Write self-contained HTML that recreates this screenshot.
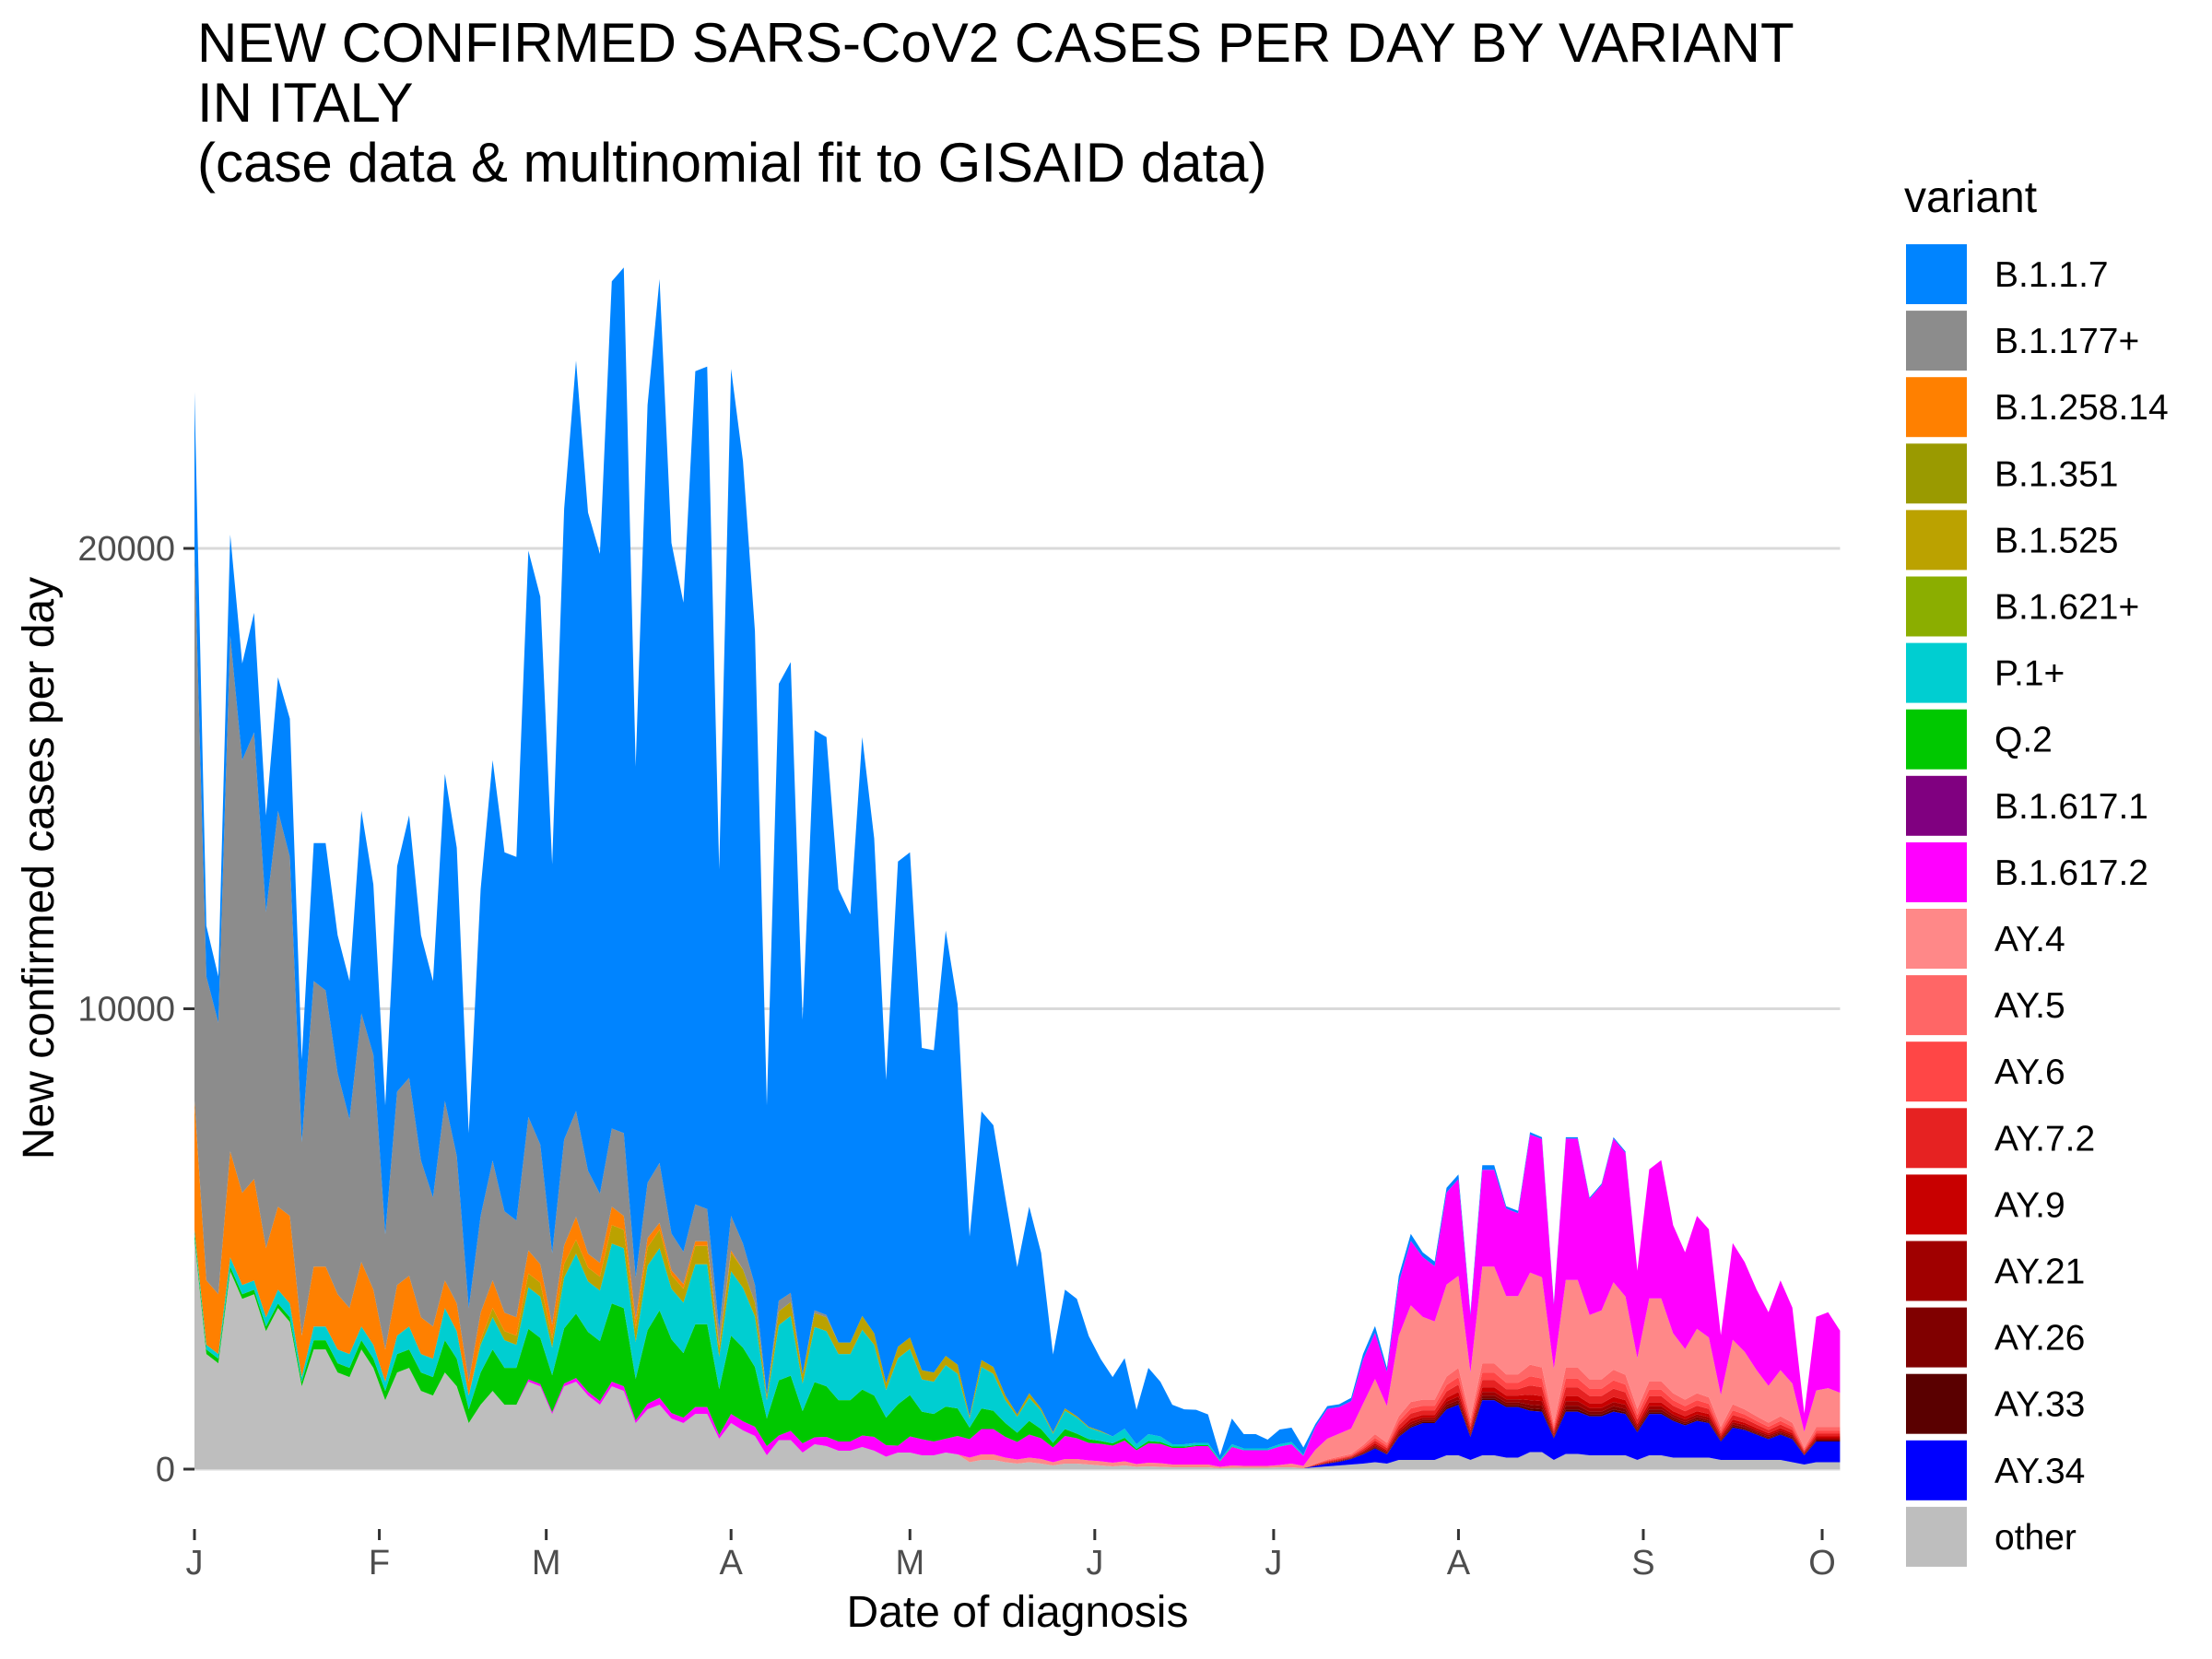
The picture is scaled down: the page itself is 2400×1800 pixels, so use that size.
<!DOCTYPE html>
<html>
<head>
<meta charset="utf-8">
<style>
  html,body{margin:0;padding:0;background:#fff;}
  svg{display:block;font-family:"Liberation Sans",Arial,sans-serif;}
</style>
</head>
<body>
<svg id="chart" xmlns="http://www.w3.org/2000/svg" width="2400" height="1800" viewBox="0 0 2400 1800">
  <rect x="0" y="0" width="2400" height="1800" fill="#ffffff"/>
  <g font-size="60" fill="#000">
    <text x="214" y="67">NEW CONFIRMED SARS-CoV2 CASES PER DAY BY VARIANT</text>
    <text x="214" y="132">IN ITALY</text>
    <text x="214" y="197">(case data &amp; multinomial fit to GISAID data)</text>
  </g>
  <g id="grid"></g>
  <g id="areas"></g>
  <g id="yaxis"></g>
  <g id="xaxis"></g>
  <text x="1104" y="1765" font-size="48" text-anchor="middle" fill="#000">Date of diagnosis</text>
  <text transform="translate(58,942) rotate(-90)" font-size="48" text-anchor="middle" fill="#000">New confirmed cases per day</text>
  <g id="legend">
    <text x="2066" y="230" font-size="48" fill="#000">variant</text>
  </g>
</svg>
<script>
// ---- data (values in thousands of cases/day), sampled every 2 days from 1 Jan 2021 ----
const Z = n => new Array(n).fill(0);
const days = Array.from({length: 139}, (_, i) => i * 2);
const monthLabels = ["J","F","M","A","M","J","J","A","S","O"];
const monthDays = [0,31,59,90,120,151,181,212,243,273];
const yTicks = [0, 10000, 20000];

const other = [5.0,2.5,2.3,4.3,3.7,3.8,3.0,3.5,3.2,1.8,2.6,2.6,2.1,2.0,2.6,2.2,1.5,2.1,2.2,1.7,1.6,2.1,1.8,1.0,1.4,1.7,1.4,1.4,1.9,1.8,1.2,1.8,1.9,1.6,1.4,1.8,1.7,1.0,1.3,1.4,1.1,1.0,1.2,1.2,.66,1.0,.84,.72,.3,.63,.63,.36,.54,.5,.4,.4,.48,.4,.27,.36,.36,.3,.3,.36,.32,
 .15,.2,.2,.15,.12,.15,.12,.08,.12,.12,.1,.08,.06,.08,.05,.06,.05,.04,.04,.04,.04,.02,.03,.03,.03,.03,.04,.04,.02,
 .04,.06,.08,.1,.12,.15,.12,.2,.2,.2,.2,.3,.3,.2,.3,.3,.25,.25,.37,.37,.2,.33,.33,.3,.3,.3,.3,.2,.3,.3,.25,.25,.25,.25,.2,.2,.2,.2,.2,.2,.15,.1,.15,.15,.15];
const ay34 = Z(94).concat([.03,.06,.08,.12,.2,.3,.2,.5,.7,.8,.8,1.0,1.1,.5,1.2,1.2,1.1,1.1,.9,.88,.47,.92,.92,.85,.85,.95,.9,.6,.9,.9,.8,.7,.8,.75,.4,.7,.65,.55,.45,.55,.5,.2,.45,.45,.45]);
const ay33 = Z(94).concat([0,0,.01,.01,.01,.02,.01,.02,.03,.03,.03,.04,.04,.02,.04,.04,.04,.04,.05,.05,.02,.05,.05,.04,.04,.05,.04,.03,.04,.04,.03,.03,.03,.03,.02,.03,.02,.02,.02,.02,.02,.01,.02,.02,.02]);
const ay26 = Z(94).concat([0,.01,.01,.01,.02,.02,.02,.04,.04,.04,.04,.06,.06,.03,.06,.06,.06,.06,.08,.08,.02,.08,.08,.06,.06,.07,.07,.04,.06,.06,.05,.04,.05,.04,.02,.04,.04,.03,.03,.03,.03,.01,.02,.02,.02]);
const ay21 = Z(94).concat([.01,.01,.01,.01,.02,.03,.03,.05,.06,.05,.05,.07,.08,.04,.08,.08,.07,.07,.1,.1,.03,.1,.1,.08,.08,.09,.09,.05,.07,.07,.06,.06,.06,.06,.03,.05,.05,.04,.04,.04,.04,.02,.03,.03,.03]);
const ay9 = Z(94).concat([.01,.01,.01,.01,.02,.04,.03,.05,.07,.06,.06,.08,.1,.05,.1,.1,.08,.08,.12,.11,.04,.11,.11,.1,.1,.11,.1,.06,.08,.08,.07,.07,.07,.07,.04,.06,.05,.05,.04,.05,.04,.02,.04,.04,.04]);
const ay72 = Z(94).concat([.01,.02,.02,.02,.04,.06,.05,.09,.11,.1,.1,.14,.16,.08,.16,.16,.14,.14,.2,.19,.06,.19,.19,.16,.16,.18,.17,.1,.14,.14,.12,.11,.12,.11,.06,.1,.09,.08,.07,.08,.07,.03,.06,.06,.06]);
const ay6 = Z(94).concat([.01,.02,.02,.02,.04,.06,.05,.09,.11,.1,.1,.14,.16,.08,.16,.16,.14,.14,.2,.19,.06,.19,.19,.16,.16,.18,.17,.1,.14,.14,.12,.11,.12,.11,.06,.1,.09,.08,.07,.08,.07,.03,.06,.06,.06]);
const ay5 = Z(94).concat([.01,.02,.03,.03,.05,.08,.06,.11,.14,.13,.13,.18,.2,.1,.2,.2,.18,.18,.25,.24,.08,.24,.24,.2,.2,.23,.21,.13,.18,.18,.15,.14,.15,.14,.08,.13,.11,.1,.09,.1,.09,.04,.08,.08,.08]);
const ay4 = Z(65).concat([.1,.12,.12,.1,.09,.1,.1,.07,.1,.1,.09,.09,.08,.09,.06,.08,.08,.06,.06,.06,.06,.03,.05,.04,.04,.04,.05,.08,.05],
 [.3,.45,.5,.55,.9,1.2,.8,1.75,2.1,1.8,1.7,2.0,2.0,1.0,2.1,2.1,1.7,1.7,2.0,1.96,1.2,1.9,1.9,1.4,1.5,1.9,1.7,1.1,1.8,1.8,1.3,1.1,1.4,1.3,.7,1.4,1.25,1.0,.8,1.0,.85,.35,.8,.85,.75]);
const b16172 = Z(28).concat([.05,.05,.04,.06,.08,.08,.08,.1,.1,.06,.12,.15,.12,.12,.15,.15,.08,.2,.2,.2,.2,.1,.2,.2,.15,.2,.2,.2,.25,.3,.25,.15,.35,.35,.3,.3,.4],
 [.4,.55,.55,.45,.38,.5,.45,.32,.5,.45,.38,.38,.37,.45,.3,.42,.42,.36,.36,.4,.4,.12,.4,.34,.34,.34,.4,.42,.22],
 [.5,.65,.58,.6,.96,1.0,.75,1.15,1.4,1.3,1.2,2.0,2.1,1.25,2.1,2.1,1.9,1.8,3.0,3.0,1.4,3.07,3.07,2.52,2.72,3.12,3.12,1.9,2.8,3.0,2.35,2.1,2.45,2.35,1.3,2.1,1.95,1.75,1.6,1.95,1.65,.4,1.6,1.65,1.35]);
const b16171 = Z(139);
const q2 = [.1,.1,.1,.1,.1,.1,.1,.1,.1,.1,.2,.2,.2,.2,.2,.2,.2,.4,.4,.4,.4,.7,.6,.3,.7,.9,.8,.8,1.1,1.0,.8,1.2,1.4,1.3,1.3,1.7,1.7,.9,1.6,1.9,1.6,1.4,1.8,1.8,1.0,1.7,1.6,1.3,.6,1.2,1.2,.7,1.2,1.1,.9,.9,1.0,.9,.6,.9,.9,.6,.6,.7,.6]
 .concat([.25,.45,.4,.3,.2,.3,.2,.1,.15,.1,.08,.06,.05,.06,.03,.05,.04,.03,.03,.02,.02,.01,.01,0,0,0,0,0,0], Z(45));
const p1 = [.1,.1,.1,.2,.2,.2,.2,.3,.3,.1,.3,.3,.3,.3,.3,.3,.2,.4,.5,.4,.4,.7,.6,.3,.6,.7,.6,.5,.9,.9,.6,1.1,1.3,1.1,1.1,1.3,1.3,.8,1.4,1.35,1.1,1.1,1.3,1.3,.7,1.4,1.3,1.1,.4,1.2,1.3,.6,1.2,1.2,1.0,1.0,1.3,1.1,.6,1.0,1.0,.7,.7,.9,.75]
 .concat([.2,.9,.8,.5,.35,.5,.4,.2,.4,.35,.25,.2,.15,.2,.1,.15,.12,.05,.05,.05,.05,.02,.05,.04,.04,.04,.05,.05,.02], Z(45));
const b1621 = Z(139);
const b1525 = Z(23).concat([0,.1,.2,.2,.2,.3,.3,.2,.3,.3,.3,.3,.4,.4,.3,.4,.4,.3,.3,.4,.4,.2,.4,.4,.3,.1,.3,.3,.2,.3,.3,.25,.25,.3,.25,.15,.25,.25,.2,.2,.2,.2],
 [.05,.15,.15,.1,.05,.1,.05,.03,.05,.03,.02,.02], Z(17), Z(45));
const b1351 = Z(139);
const b125814 = [2.8,1.4,1.3,2.3,2.0,2.2,1.5,1.8,1.9,.9,1.3,1.3,1.2,1.0,1.4,1.2,.7,1.1,1.1,.8,.7,.6,.6,.3,.6,.6,.4,.4,.5,.4,.3,.4,.5,.3,.3,.4,.3,.2,.2,.15,.1,.1,.1,.1,.05,.05].concat(Z(93));
const b1177 = [12.0,6.6,5.9,11.2,9.4,9.7,7.3,8.6,7.8,4.2,6.2,6.0,4.8,4.1,5.4,5.1,2.5,4.2,4.3,3.4,2.8,3.9,3.2,1.6,2.1,2.6,2.2,2.1,2.9,2.6,1.55,2.3,2.3,1.8,1.5,1.7,1.8,.9,1.2,1.3,.8,.7,.8,.7,.34,.75,.56,.38,0,.23,.2,0,.06,.05].concat(Z(85));
const b117 = [3.4,1.1,1.0,2.2,2.1,2.6,2.1,2.9,3.0,1.8,3.0,3.2,3.0,3.0,4.4,3.7,2.8,4.9,5.7,4.9,4.7,7.1,6.7,3.8,7.1,8.7,7.8,7.9,12.3,11.9,8.45,13.7,16.3,14.3,13.9,18.4,18.8,11.1,16.9,19.2,15.0,14.1,18.1,18.3,10.0,18.4,17.0,14.2,6.3,13.4,13.7,7.7,12.6,12.55,9.85,9.3,12.57,10.75,6.58,10.54,10.54,7.0,7.0,9.24,7.83]
 .concat([3.9,5.4,5.25,4.3,3.2,4.05,3.38,1.69,2.58,2.55,1.97,1.56,1.29,1.53,.75,1.44,1.19,.86,.76,.72,.62,.1,.56,.31,.31,.19,.32,.31,.16],
 [.06,.06,.06,.07,.12,.15,.08,.15,.15,.1,.1,.1,.1,.05,.1,.1,.05,.05,.05,.04,.03,.03,.03,.03,.03,.03,.03], Z(18));

// stacking order bottom -> top
const seriesNames = ["other","AY.34","AY.33","AY.26","AY.21","AY.9","AY.7.2","AY.6","AY.5","AY.4","B.1.617.2","B.1.617.1","Q.2","P.1+","B.1.621+","B.1.525","B.1.351","B.1.258.14","B.1.177+","B.1.1.7"];
const seriesValues = [other,ay34,ay33,ay26,ay21,ay9,ay72,ay6,ay5,ay4,b16172,b16171,q2,p1,b1621,b1525,b1351,b125814,b1177,b117];
const seriesColors = ["#BEBEBE","#0000FF","#5A0000","#800000","#A00000","#C80000","#E62222","#FF4646","#FF6666","#FF8888","#FF00FF","#800080","#00C800","#00CED1","#8BAE00","#BBA200","#9A9A00","#FF8000","#8C8C8C","#0084FF"];

// ---- axes ----
const X0 = 211, PX_PER_DAY = 6.469;
const Y0 = 1594, PX_PER_CASE = 499.5 / 10000;
const xScale = d => X0 + d * PX_PER_DAY;
const yScale = v => Y0 - v * PX_PER_CASE;
const PANEL_LEFT = 211, PANEL_RIGHT = xScale(276), PANEL_BOTTOM = 1659;
const NS = "http://www.w3.org/2000/svg";
function mk(tag, attrs){ const e = document.createElementNS(NS, tag); for (const k in attrs) e.setAttribute(k, attrs[k]); return e; }

const grid = document.getElementById("grid");
const yaxis = document.getElementById("yaxis");
yTicks.forEach(t => {
  const y = yScale(t);
  const gl = mk("line", {x1: PANEL_LEFT, x2: PANEL_RIGHT, y1: y, y2: y, stroke: "#d9d9d9", "stroke-width": 3});
  
  
  grid.appendChild(gl);
  const tk = mk("line", {x1: 199, x2: 211, y1: y, y2: y, stroke: "#333333", "stroke-width": 3});
  
  
  yaxis.appendChild(tk);
  const lb = mk("text", {x: 190, y: y + 13, "font-size": 38, "text-anchor": "end", fill: "#4d4d4d"});
  
  
  lb.textContent = String(t);
  yaxis.appendChild(lb);
});

const xaxis = document.getElementById("xaxis");
monthDays.forEach((d, i) => {
  const x = xScale(d);
  const tk = mk("line", {x1: x, x2: x, y1: PANEL_BOTTOM, y2: PANEL_BOTTOM + 12, stroke: "#333333", "stroke-width": 3});
  
  
  xaxis.appendChild(tk);
  const lb = mk("text", {x: x, y: 1708, "font-size": 38, "text-anchor": "middle", fill: "#4d4d4d"});
  
  
  lb.textContent = monthLabels[i];
  xaxis.appendChild(lb);
});

// ---- stacked areas ----
const areas = document.getElementById("areas");
let base = days.map(() => 0);
seriesValues.forEach((vals, s) => {
  const top = base.map((b, i) => b + vals[i] * 1000);
  const pts = [];
  days.forEach((d, i) => pts.push(xScale(d).toFixed(1) + "," + yScale(top[i]).toFixed(1)));
  for (let i = days.length - 1; i >= 0; i--) pts.push(xScale(days[i]).toFixed(1) + "," + yScale(base[i]).toFixed(1));
  const poly = mk("polygon", {points: pts.join(" "), fill: seriesColors[s], stroke: "none"});
  
  
  areas.appendChild(poly);
  base = top;
});

// ---- legend (top -> bottom is reverse stacking order) ----
const legend = document.getElementById("legend");
const legendOrder = seriesNames.map((n, i) => i).reverse();
legendOrder.forEach((s, k) => {
  const y = 265 + k * 72.1;
  const g = mk("g", {});
  
  
  const r = mk("rect", {x: 2068, y: y, width: 66, height: 65, fill: seriesColors[s]});
  
  
  g.appendChild(r);
  const t = mk("text", {x: 2164, y: y + 46, "font-size": 39, fill: "#000"});
  
  
  t.textContent = seriesNames[s];
  g.appendChild(t);
  legend.appendChild(g);
});
</script>
</body>
</html>
